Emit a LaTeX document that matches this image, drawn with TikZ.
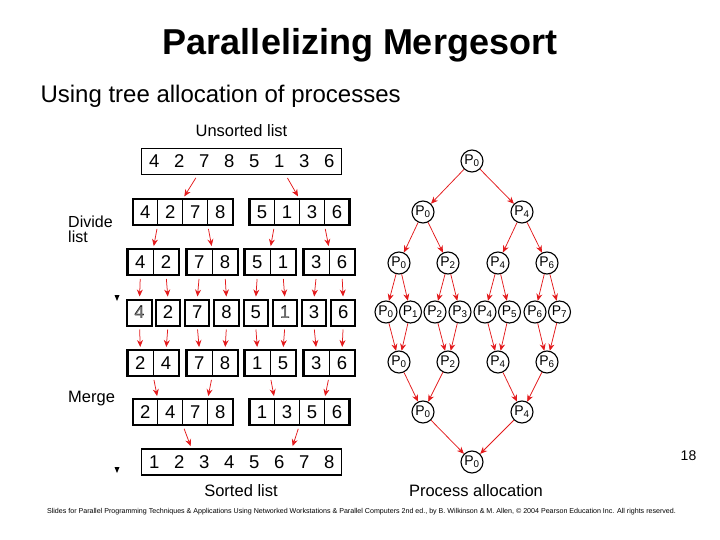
\documentclass[tikz,border=0pt]{standalone}
\usepackage{fontspec}
\setmainfont{Liberation Sans}
\usepackage{tikz}
\usetikzlibrary{arrows.meta, calc, fit}
\definecolor{arrred}{HTML}{E31A1C}
\definecolor{faded}{HTML}{7A7A7A}

\begin{document}
\begin{tikzpicture}[x=1pt, y=-1pt,
        every node/.style={font=\fontsize{16.5}{18}\selectfont},
        cell/.style={rectangle, draw, line width=0.6pt, minimum width=25pt,
          minimum height=26pt, inner sep=0pt, outer sep=0pt,
          font=\fontsize{18.5}{20}\selectfont},
        wcell/.style={cell, minimum width=25.7pt},
        single/.style={cell, line width=2pt, minimum width=24.4pt},
        plain/.style={cell, draw=none},
        grp/.style={draw, line width=2.2pt, inner sep=0pt, outer sep=0pt},
        frame/.style={draw, line width=1.4pt, inner sep=0pt, outer sep=0pt},
        proc/.style={circle, draw, line width=1.1pt, minimum size=22pt,
          inner sep=0pt, font=\fontsize{14}{15}\selectfont},
        arr/.style={-{Stealth[length=7pt, width=6pt]}, color=arrred, line width=0.75pt},
        larr/.style={arr, shorten <=4pt, shorten >=3pt}]

      \useasboundingbox (0,0) rectangle (720,540);

      % titles
      \node (title) at (360,45) {\fontsize{36}{40}\selectfont\bfseries Parallelizing Mergesort};
      \node[anchor=west] (sub) at (37,96) {\fontsize{24}{26}\selectfont Using tree allocation of processes};

      % side labels
      \node[anchor=west, align=left, inner sep=0pt, font=\fontsize{16}{15.5}\selectfont]
        (divide) at (68,229.5) {Divide\\list};
      \node[anchor=west, inner sep=0pt] (merge) at (68,399) {Merge};
      \fill (114.5,295) -- (119.5,295) -- (117,301) -- cycle;
      \fill (114.5,467) -- (119.5,467) -- (117,473) -- cycle;

      % unsorted list
      \node (unsorted) at (241.5,131) {Unsorted list};
      \foreach \v [count=\i] in {4,2,7,8,5,1,3,6}
        \node[plain] (u\i) at ({154.2+25*(\i-1)},161.5) {\v};
      \node[frame, fit=(u1)(u8)] (u) {};

      % divided in halves
      \foreach \v/\x [count=\i] in {4/145.2,2/170.2,7/195.2,8/220.2,5/262,1/287,3/312,6/337}
        \node[cell] (h\i) at (\x,212) {\v};
      \node[grp, fit=(h1)(h4)] (hA) {};
      \node[grp, fit=(h5)(h8)] (hB) {};

      % divided in pairs
      \foreach \v/\x [count=\i] in {4/140.35,2/166.05,7/199.35,8/225.05,5/257.35,1/283.05,3/316.35,6/342.05}
        \node[wcell] (s\i) at (\x,262) {\v};
      \node[grp, fit=(s1)(s2)] (sA) {};
      \node[grp, fit=(s3)(s4)] (sB) {};
      \node[grp, fit=(s5)(s6)] (sC) {};
      \node[grp, fit=(s7)(s8)] (sD) {};

      % single elements
      \foreach \v/\x [count=\i] in {4/139.5,2/168,7/197.2,8/226.5,5/255.7,1/284.9,3/313.9,6/343.2}
        \node[single] (e\i) at (\x,312.5) {\v};
      \node[text=faded] at (e1) {4};
      \node[text=faded] at (e6) {1};

      % merged pairs
      \foreach \v/\x [count=\i] in {2/140.35,4/166.05,7/199.35,8/225.05,1/257.35,5/283.05,3/316.35,6/342.05}
        \node[wcell] (m\i) at (\x,363) {\v};
      \node[grp, fit=(m1)(m2)] (mA) {};
      \node[grp, fit=(m3)(m4)] (mB) {};
      \node[grp, fit=(m5)(m6)] (mC) {};
      \node[grp, fit=(m7)(m8)] (mD) {};

      % merged halves
      \foreach \v/\x [count=\i] in {2/145.2,4/170.2,7/195.2,8/220.2,1/262,3/287,5/312,6/337}
        \node[cell] (n\i) at (\x,412) {\v};
      \node[grp, fit=(n1)(n4)] (nA) {};
      \node[grp, fit=(n5)(n8)] (nB) {};

      % sorted list
      \foreach \v [count=\i] in {1,2,3,4,5,6,7,8}
        \node[plain] (o\i) at ({154.2+25*(\i-1)},462) {\v};
      \node[frame, fit=(o1)(o8)] (o) {};
      \node (sorted) at (241,491) {Sorted list};

      % list arrows
      \draw[larr] ($(u3.south)!0.5!(u3.south west)$) -- (h2.north east);
      \draw[larr] ($(u6.south)!0.5!(u6.south east)$) -- (h6.north east);
      \draw[larr] (h1.south east) -- (sA.north);
      \draw[larr] (h3.south east) -- (sB.north);
      \draw[larr] (h5.south east) -- (sC.north);
      \draw[larr] (h7.south east) -- (sD.north);
      \foreach \i in {1,...,8} {
        \draw[larr] (s\i.south) -- (e\i.north);
        \draw[larr] (e\i.south) -- (m\i.north);
      }
      \draw[larr] (m1.south east) -- (n1.north east);
      \draw[larr] (m3.south east) -- (n3.north east);
      \draw[larr] (m5.south east) -- (n5.north east);
      \draw[larr] (m7.south east) -- (n7.north east);
      \draw[larr] (n2.south east) -- (o2.north east);
      \draw[larr] (n6.south east) -- (o6.north east);

      % process tree, divide
      \node[proc] (q0) at (472,161) {P\textsubscript{0}};
      \node[proc] (qa0) at (423,212) {P\textsubscript{0}};
      \node[proc] (qa4) at (522,212) {P\textsubscript{4}};
      \node[proc] (qb0) at (399,263) {P\textsubscript{0}};
      \node[proc] (qb2) at (448,263) {P\textsubscript{2}};
      \node[proc] (qb4) at (498,263) {P\textsubscript{4}};
      \node[proc] (qb6) at (547,263) {P\textsubscript{6}};
      \foreach \x [count=\i from 0] in {386,410.5,435,460,485,509.5,535,559.5}
        \node[proc] (qc\i) at (\x,312) {P\textsubscript{\i}};

      % process tree, merge
      \node[proc] (qd0) at (399,362) {P\textsubscript{0}};
      \node[proc] (qd2) at (448,362) {P\textsubscript{2}};
      \node[proc] (qd4) at (498,362) {P\textsubscript{4}};
      \node[proc] (qd6) at (547,362) {P\textsubscript{6}};
      \node[proc] (qe0) at (423,412) {P\textsubscript{0}};
      \node[proc] (qe4) at (522,412) {P\textsubscript{4}};
      \node[proc] (qf0) at (472,462) {P\textsubscript{0}};
      \node (alloc) at (476,491) {Process allocation};

      \draw[arr] (q0) -- (qa0);
      \draw[arr] (q0) -- (qa4);
      \draw[arr] (qa0) -- (qb0);
      \draw[arr] (qa0) -- (qb2);
      \draw[arr] (qa4) -- (qb4);
      \draw[arr] (qa4) -- (qb6);
      \foreach \p/\a/\b in {0/0/1, 2/2/3, 4/4/5, 6/6/7} {
        \draw[arr] (qb\p) -- (qc\a);
        \draw[arr] (qb\p) -- (qc\b);
        \draw[arr] (qc\a) -- (qd\p);
        \draw[arr] (qc\b) -- (qd\p);
      }
      \draw[arr] (qd0) -- (qe0);
      \draw[arr] (qd2) -- (qe0);
      \draw[arr] (qd4) -- (qe4);
      \draw[arr] (qd6) -- (qe4);
      \draw[arr] (qe0) -- (qf0);
      \draw[arr] (qe4) -- (qf0);

      % page number and footer
      \node (page) at (688.5,456) {\fontsize{14}{16}\selectfont 18};
      \node (footer) at (361.5,512) {\fontsize{7.1}{8}\selectfont Slides for Parallel Programming Techniques \& Applications Using Networked Workstations \& Parallel Computers 2nd ed., by B. Wilkinson \& M. Allen, © 2004 Pearson Education Inc. All rights reserved.};
    \end{tikzpicture}
\end{document}
